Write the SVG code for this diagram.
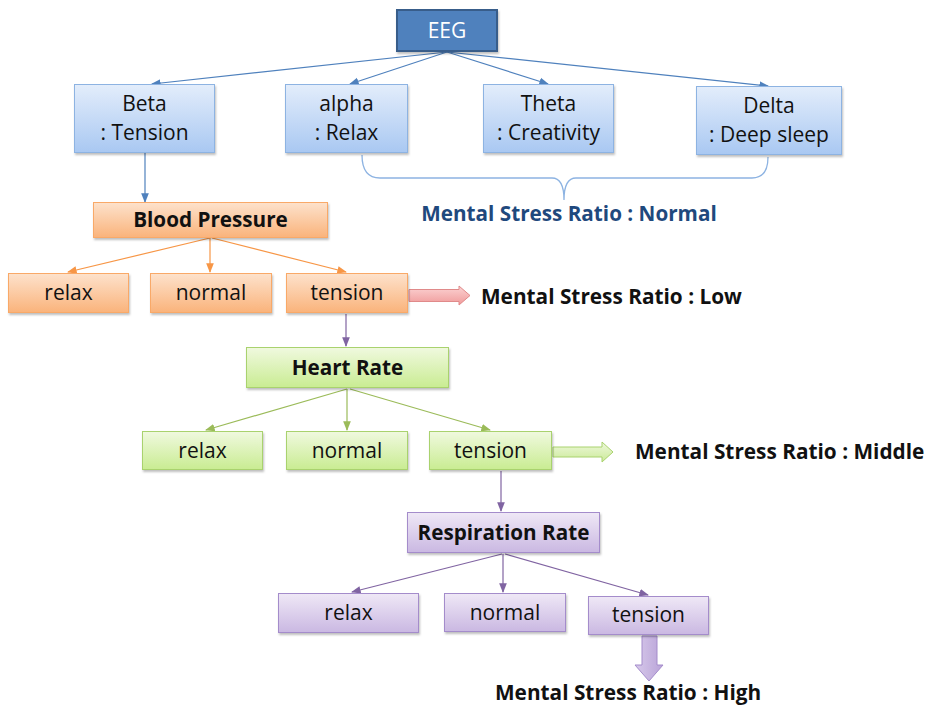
<svg xmlns="http://www.w3.org/2000/svg" width="937" height="706" viewBox="0 0 937 706">
<defs>
<linearGradient id="gb" x1="0" y1="0" x2="0" y2="1"><stop offset="0" stop-color="#e3edfb"/><stop offset="1" stop-color="#a9c8f2"/></linearGradient>
<linearGradient id="go" x1="0" y1="0" x2="0" y2="1"><stop offset="0" stop-color="#fde2cc"/><stop offset="1" stop-color="#fab37b"/></linearGradient>
<linearGradient id="gg" x1="0" y1="0" x2="0" y2="1"><stop offset="0" stop-color="#f0f9df"/><stop offset="1" stop-color="#c9ec92"/></linearGradient>
<linearGradient id="gp" x1="0" y1="0" x2="0" y2="1"><stop offset="0" stop-color="#efe8f6"/><stop offset="1" stop-color="#cab8e2"/></linearGradient>
<linearGradient id="gr" x1="0" y1="0" x2="0" y2="1"><stop offset="0" stop-color="#fbd3d3"/><stop offset="1" stop-color="#f09a9a"/></linearGradient>
<linearGradient id="gga" x1="0" y1="0" x2="0" y2="1"><stop offset="0" stop-color="#eef8dc"/><stop offset="1" stop-color="#cbea98"/></linearGradient>
<linearGradient id="gpa" x1="0" y1="0" x2="1" y2="0"><stop offset="0" stop-color="#d7c9ea"/><stop offset="1" stop-color="#b9a3d8"/></linearGradient>
<filter id="sh" x="-10%" y="-10%" width="130%" height="140%"><feDropShadow dx="1" dy="2" stdDeviation="1.2" flood-color="#000" flood-opacity="0.25"/></filter>
<marker id="mb" viewBox="0 0 10 10" refX="9" refY="5" markerWidth="8" markerHeight="8" orient="auto"><path d="M0,1 L10,5 L0,9 z" fill="#4f81bd"/></marker>
<marker id="mo" viewBox="0 0 10 10" refX="9" refY="5" markerWidth="8" markerHeight="8" orient="auto"><path d="M0,1 L10,5 L0,9 z" fill="#f79646"/></marker>
<marker id="mg" viewBox="0 0 10 10" refX="9" refY="5" markerWidth="8" markerHeight="8" orient="auto"><path d="M0,1 L10,5 L0,9 z" fill="#9bbb59"/></marker>
<marker id="mp" viewBox="0 0 10 10" refX="9" refY="5" markerWidth="8" markerHeight="8" orient="auto"><path d="M0,1 L10,5 L0,9 z" fill="#8064a2"/></marker>
</defs>
<style>
text{font-family:"Open Sans","Liberation Sans",sans-serif;fill:#111;}
.t{font-size:21px;text-anchor:middle;}
.b{font-size:20.7px;font-weight:bold;text-anchor:middle;}
.r{font-size:20.8px;font-weight:bold;}
.cb{stroke:#4f81bd;stroke-width:1.2;fill:none;marker-end:url(#mb);}
.co{stroke:#f79646;stroke-width:1.2;fill:none;marker-end:url(#mo);}
.cg{stroke:#9bbb59;stroke-width:1.2;fill:none;marker-end:url(#mg);}
.cp{stroke:#8064a2;stroke-width:1.2;fill:none;marker-end:url(#mp);}
.nb{fill:url(#gb);stroke:#8db3e2;stroke-width:1;filter:url(#sh);}
.no{fill:url(#go);stroke:#f9a967;stroke-width:1;filter:url(#sh);}
.ng{fill:url(#gg);stroke:#a9d26e;stroke-width:1;filter:url(#sh);}
.np{fill:url(#gp);stroke:#a48ccb;stroke-width:1;filter:url(#sh);}
</style>
<rect width="937" height="706" fill="#ffffff"/>

<g id="connectors">
<line class="cb" x1="447" y1="52" x2="152" y2="84"/>
<line class="cb" x1="447" y1="52" x2="350" y2="84"/>
<line class="cb" x1="447" y1="52" x2="548" y2="84"/>
<line class="cb" x1="447" y1="52" x2="768" y2="86"/>
<line class="cb" x1="145" y1="153" x2="145" y2="202"/>
<line class="co" x1="210" y1="238" x2="68" y2="272"/>
<line class="co" x1="210" y1="238" x2="210" y2="272"/>
<line class="co" x1="212" y1="238" x2="346" y2="272"/>
<line class="cp" x1="346" y1="314" x2="346" y2="346"/>
<line class="cg" x1="347" y1="389" x2="206" y2="430"/>
<line class="cg" x1="347" y1="389" x2="347" y2="430"/>
<line class="cg" x1="350" y1="389" x2="490" y2="430"/>
<line class="cp" x1="501" y1="471" x2="501" y2="511"/>
<line class="cp" x1="502" y1="554" x2="352" y2="592"/>
<line class="cp" x1="503" y1="554" x2="503" y2="592"/>
<line class="cp" x1="505" y1="554" x2="648" y2="595"/>
<path d="M362,155 Q362,178 380,178 L552,178 Q564,178 564,200 Q564,178 576,178 L752,178 Q768,178 768,157" fill="none" stroke="#8db3e2" stroke-width="1.3"/>
<path d="M409,289.5 L459,289.5 L459,286 L470,295.5 L459,305 L459,301.5 L409,301.5 z" fill="url(#gr)" stroke="#e08a8a" stroke-width="1"/>
<path d="M553,447 L602,447 L602,442 L613,452 L602,462 L602,457 L553,457 z" fill="url(#gga)" stroke="#a9d26e" stroke-width="1"/>
<path d="M642,636 L657,636 L657,665 L663,665 L649,681 L635,665 L642,665 z" fill="url(#gpa)" stroke="#a48ccb" stroke-width="1"/>
</g>

<g id="eeg">
<rect x="397" y="10" width="100" height="41" fill="#4f81bd" stroke="#385d8a" stroke-width="2" filter="url(#sh)"/>
<text x="447" y="38" class="t" style="fill:#fff">EEG</text>
</g>
<g id="beta">
<rect class="nb" x="74.5" y="84.5" width="140" height="68"/>
<text x="144.5" y="111" class="t">Beta</text>
<text x="144.5" y="140" class="t">: Tension</text>
</g>
<g id="alpha">
<rect class="nb" x="285.5" y="84.5" width="122" height="68"/>
<text x="346.5" y="111" class="t">alpha</text>
<text x="346.5" y="140" class="t">: Relax</text>
</g>
<g id="theta">
<rect class="nb" x="483.5" y="84.5" width="130" height="68"/>
<text x="548.5" y="111" class="t">Theta</text>
<text x="548.5" y="140" class="t">: Creativity</text>
</g>
<g id="delta">
<rect class="nb" x="696.5" y="86.5" width="145" height="68"/>
<text x="769" y="113" class="t">Delta</text>
<text x="769" y="142" class="t">: Deep sleep</text>
</g>
<g id="normal-label">
<text x="569" y="221" class="b" style="fill:#1f497d">Mental Stress Ratio : Normal</text>
</g>

<g id="blood-pressure">
<rect class="no" x="93.5" y="202.5" width="234" height="35"/>
<text x="210.5" y="227" class="b">Blood Pressure</text>
</g>
<g id="bp-relax">
<rect class="no" x="8.5" y="273.5" width="120" height="39"/>
<text x="68.5" y="300" class="t">relax</text>
</g>
<g id="bp-normal">
<rect class="no" x="150.5" y="273.5" width="121" height="39"/>
<text x="211" y="300" class="t">normal</text>
</g>
<g id="bp-tension">
<rect class="no" x="286.5" y="273.5" width="121" height="39"/>
<text x="347" y="300" class="t">tension</text>
</g>
<g id="low-label">
<text x="481" y="304" class="r">Mental Stress Ratio : Low</text>
</g>

<g id="heart-rate">
<rect class="ng" x="246.5" y="347.5" width="202" height="40"/>
<text x="347.5" y="375" class="b">Heart Rate</text>
</g>
<g id="hr-relax">
<rect class="ng" x="142.5" y="431.5" width="120" height="38"/>
<text x="202.5" y="458" class="t">relax</text>
</g>
<g id="hr-normal">
<rect class="ng" x="286.5" y="431.5" width="121" height="38"/>
<text x="347" y="458" class="t">normal</text>
</g>
<g id="hr-tension">
<rect class="ng" x="429.5" y="431.5" width="122" height="38"/>
<text x="490.5" y="458" class="t">tension</text>
</g>
<g id="middle-label">
<text x="635" y="459" class="r">Mental Stress Ratio : Middle</text>
</g>

<g id="respiration-rate">
<rect class="np" x="407.5" y="512.5" width="192" height="40"/>
<text x="503.5" y="540" class="b">Respiration Rate</text>
</g>
<g id="rr-relax">
<rect class="np" x="278.5" y="593.5" width="140" height="39"/>
<text x="348.5" y="620" class="t">relax</text>
</g>
<g id="rr-normal">
<rect class="np" x="444.5" y="593.5" width="121" height="38"/>
<text x="505" y="620" class="t">normal</text>
</g>
<g id="rr-tension">
<rect class="np" x="588.5" y="596.5" width="120" height="38"/>
<text x="648.5" y="622" class="t">tension</text>
</g>
<g id="high-label">
<text x="495" y="700" class="r">Mental Stress Ratio : High</text>
</g>
</svg>
